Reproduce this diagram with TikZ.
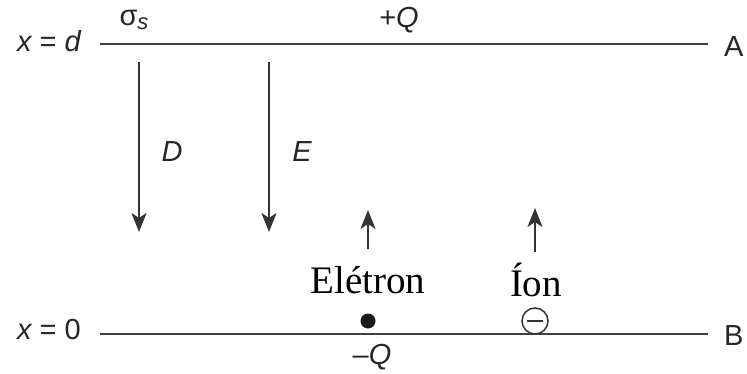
\documentclass[tikz,border=0pt]{standalone}
\usepackage{fontspec}
\setmainfont{Liberation Serif}
\setsansfont{Liberation Sans}
\usetikzlibrary{arrows.meta}
\begin{document}
\begin{tikzpicture}[x=1pt,y=-1pt,
  plate/.style={line width=2pt,draw=black!75},
  lbl/.style={font=\sffamily\fontsize{29}{31}\selectfont,text=black!85,inner sep=0pt},
  serif/.style={font=\rmfamily\fontsize{39}{42}\selectfont,inner sep=0pt},
  field/.style={line width=1.8pt,draw=black!80,-{Stealth[length=19pt,width=15pt,inset=5pt]}}]
\useasboundingbox (0,0) rectangle (747,374);
% plates
\coordinate (A1) at (100,44);
\coordinate (A2) at (708,44);
\coordinate (B1) at (100,334);
\coordinate (B2) at (708,334);
\draw[plate] (A1) -- (A2);
\draw[plate] (B1) -- (B2);
\node[lbl,anchor=east] (xd) at (81,41) {\itshape x\upshape{} = \itshape d};
\node[lbl,anchor=east] (x0) at (81,330) {\itshape x\upshape{} = 0};
\node[lbl,anchor=west] (A) at (724,47) {A};
\node[lbl,anchor=west] (B) at (724,336) {B};
\node[lbl] (sig) at (134,20) {σ\raisebox{-0.3ex}{\fontsize{22}{24}\selectfont\itshape s}};
\node[lbl] (pq) at (399,20) {+\itshape Q};
\node[lbl] (mq) at (372,357) {–\itshape Q};
% field arrows
\coordinate (D1) at (139,62);
\coordinate (D2) at (139,232);
\coordinate (E1) at (269,62);
\coordinate (E2) at (269,232);
\draw[field] (D1) -- (D2);
\draw[field] (E1) -- (E2);
\node[lbl] (D) at (172,152) {\itshape D};
\node[lbl] (E) at (302,152) {\itshape E};
% particles
\coordinate (e1) at (368,249);
\coordinate (e2) at (368,210);
\coordinate (i1) at (535,252);
\coordinate (i2) at (535,208);
\draw[field] (e1) -- (e2);
\draw[field] (i1) -- (i2);
\node[serif] (el) at (368,280) {Elétron};
\node[serif] (ion) at (536,280) {Íon};
\node[circle,fill=black!90,inner sep=0pt,minimum size=15pt] (dot) at (368,321) {};
\node[circle,draw=black!80,line width=1.5pt,inner sep=0pt,minimum size=26pt] (neg) at (535,321) {};
\draw[line width=1.8pt,black!80] ([xshift=-8pt]neg.center) -- ([xshift=8pt]neg.center);
\end{tikzpicture}
\end{document}
